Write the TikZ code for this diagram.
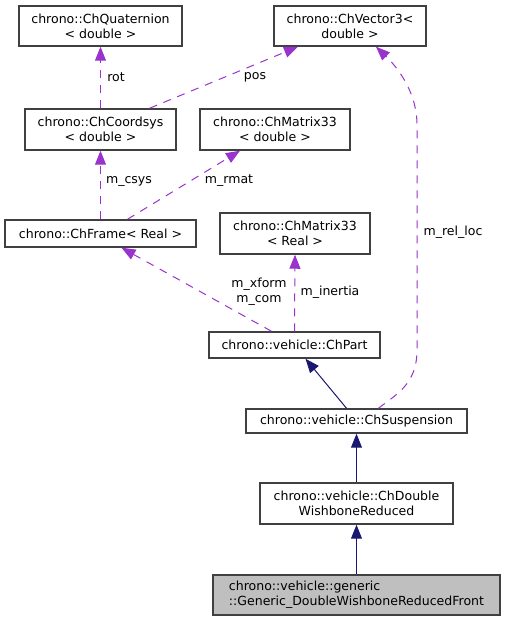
\documentclass[tikz,border=0pt]{standalone}
\usepackage{fontspec}
\setmainfont{DejaVu Sans}
\usetikzlibrary{arrows.meta,calc}

\definecolor{depcol}{HTML}{9A32CD}
\definecolor{inhcol}{HTML}{191970}
\definecolor{boxcol}{HTML}{404040}
\definecolor{curcol}{HTML}{BFBFBF}

\tikzset{every picture/.style={line width=0.75pt}}
\tikzset{
  cls/.style={draw=boxcol, line width=1.1pt, fill=white, inner sep=0pt, align=center, font=\fontsize{9.4}{11.25}\selectfont},
  lbl/.style={inner sep=0.75pt, align=center, font=\fontsize{9.4}{11.25}\selectfont},
  dep/.style={draw=depcol, dash pattern={on 6pt off 5.25pt}, -{Triangle[length=10.5pt,width=8.25pt]}},
  inh/.style={draw=inhcol, -{Triangle[length=10.5pt,width=8.25pt]}},
}

\begin{document}
\begin{tikzpicture}[x=0.75pt,y=0.75pt,yscale=-1,xscale=1]
\useasboundingbox (0,0) rectangle (505,621); %set diagram size 505 x 621

%Shape: Rectangle [quat]
\node [cls, minimum width=122.25pt, minimum height=30pt] (quat) at (100.5,26) {chrono::ChQuaternion\\< double >};
%Shape: Rectangle [vec]
\node [cls, minimum width=114pt, minimum height=30pt] (vec) at (350,26) {chrono::ChVector3<\\double >};
%Shape: Rectangle [csys]
\node [cls, minimum width=113.25pt, minimum height=30.75pt] (csys) at (100.5,129.5) {chrono::ChCoordsys\\< double >};
%Shape: Rectangle [m33d]
\node [cls, minimum width=112.5pt, minimum height=30.75pt] (m33d) at (275,129.5) {chrono::ChMatrix33\\< double >};
%Shape: Rectangle [frame]
\node [cls, minimum width=143.25pt, minimum height=20.25pt] (frame) at (100.5,233.5) {chrono::ChFrame< Real >};
%Shape: Rectangle [m33r]
\node [cls, minimum width=112.5pt, minimum height=30.75pt] (m33r) at (295,233.5) {chrono::ChMatrix33\\< Real >};
%Shape: Rectangle [part]
\node [cls, minimum width=128.25pt, minimum height=19.5pt] (part) at (294.5,345) {chrono::vehicle::ChPart};
%Shape: Rectangle [susp]
\node [cls, minimum width=165.75pt, minimum height=18pt] (susp) at (356.5,421) {chrono::vehicle::ChSuspension};
%Shape: Rectangle [dwr]
\node [cls, minimum width=144.75pt, minimum height=30.75pt] (dwr) at (356.5,503.5) {chrono::vehicle::ChDouble\\WishboneReduced};
%Shape: Rectangle [gen]
\node [cls, fill=curcol, align=left, minimum width=215.25pt, minimum height=30pt] (gen) at (356.5,595) {chrono::vehicle::generic\\::Generic\_DoubleWishboneReducedFront};

%Straight Lines [rot]
\draw [dep] (csys.north) -- (quat.south);
%Straight Lines [pos]
\draw [dep] ($(csys.north)+(49,0)$) -- ($(vec.south)+(-52,0)$);
%Straight Lines [m_csys]
\draw [dep] (frame.north) -- (csys.south);
%Straight Lines [m_rmat]
\draw [dep] ($(frame.north)+(27,0)$) -- ($(m33d.south)+(-35,0)$);
%Straight Lines [m_xform]
\draw [dep] ($(part.north)+(-23,0)$) -- ($(frame.south)+(21,0)$);
%Straight Lines [m_inertia]
\draw [dep] (part.north) -- (m33r.south);
%Curve Lines [m_rel_loc]
\coordinate (rl1) at (417,350);
\coordinate (rl2) at (417,125);
\draw [dep] ($(susp.north)+(22,0)$) .. controls (395,395) and (417,385) .. (rl1) -- (rl2) .. controls (417,90) and (395,65) .. ($(vec.south)+(26,0)$);

%Straight Lines [inherit]
\draw [inh] ($(susp.north)+(-10,0)$) -- ($(part.south)+(11,0)$);
\draw [inh] (dwr.north) -- (susp.south);
\draw [inh] (gen.north) -- (dwr.south);

% Text Node
\node [lbl] (lrot) at (116,77) {rot};
% Text Node
\node [lbl] (lpos) at (255,77) {pos};
% Text Node
\node [lbl] (lcsys) at (129,181) {m\_csys};
% Text Node
\node [lbl] (lrmat) at (229,181) {m\_rmat};
% Text Node
\node [lbl] (lxform) at (259,292) {m\_xform\\m\_com};
% Text Node
\node [lbl] (linertia) at (330,292) {m\_inertia};
% Text Node
\node [lbl] (lrelloc) at (453,232) {m\_rel\_loc};
\end{tikzpicture}
\end{document}
